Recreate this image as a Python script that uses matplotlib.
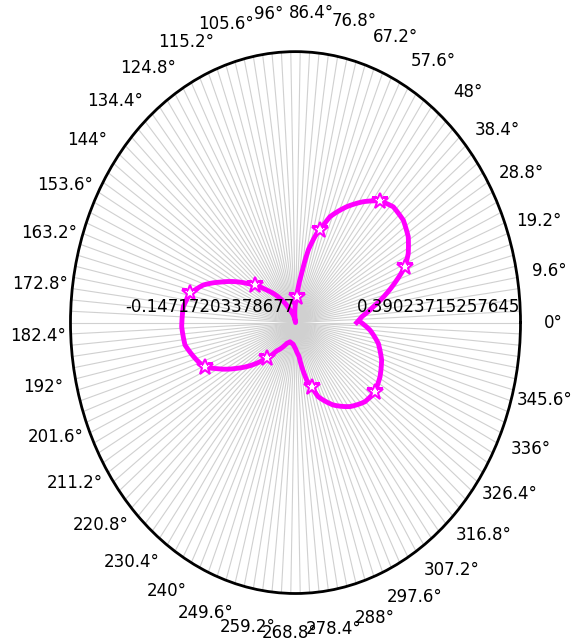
import numpy as np
import matplotlib
matplotlib.use('Agg')
import matplotlib.pyplot as plt

# curve: angle (deg) and radius (chart units)
theta_deg = [0.0, 4.2, 9.6, 14.9, 19.2, 22.9, 27.0, 32.3, 38.3, 44.5,
             50.1, 56.0, 62.0, 68.6, 72.3, 74.0, 78.0, 81.4, 86.8, 100.0,
             117.9, 127.6, 136.9, 142.5, 146.3, 154.9, 161.3, 167.1, 173.3, 181.8,
             189.6, 197.5, 202.4, 204.8, 212.9, 222.5, 225.9, 231.3, 243.1, 251.0,
             262.4, 269.7, 277.0, 283.2, 286.9, 290.3, 298.9, 308.1, 316.6, 324.1,
             332.0, 340.1, 348.2, 355.2, 359.8]
radius = [0.0919, 0.1121, 0.1611, 0.2215, 0.2715, 0.3174, 0.3473, 0.3740, 0.3893, 0.3885,
          0.3676, 0.3257, 0.2783, 0.2215, 0.1675, 0.1537, 0.0932, 0.0142, -0.0633, -0.1472,
          -0.1013, -0.0481, 0.0070, 0.0523, 0.0820, 0.1644, 0.2330, 0.2756, 0.2941, 0.2976,
          0.2905, 0.2575, 0.2352, 0.2066, 0.1262, 0.0409, 0.0145, -0.0294, -0.0716, -0.0813,
          -0.0769, -0.0637, -0.0373, 0.0444, 0.0726, 0.1095, 0.1584, 0.1991, 0.2266, 0.2361,
          0.2268, 0.2106, 0.1833, 0.1449, 0.1112]

# where the star markers sit (deg)
star_theta = [22.9, 50.1, 72.3, 86.8, 142.5, 167.1, 202.4, 225.9, 286.9, 324.1]

r_low = -0.1472
r_high = 0.7318
min_label = '-0.14717203378677'
max_label = '0.39023715257645'

grid_step = 2.4
label_step = 9.6
label_angles = [round(label_step * k, 1) for k in range(37)]
label_text = ['%g°' % a for a in label_angles]

fig = plt.figure(figsize=(5.74, 6.39), dpi=100)
ax = fig.add_axes([0.1228, 0.0712, 0.784, 0.848], projection='polar')
ax.set_aspect('auto')

marks = [theta_deg.index(s) for s in star_theta]
line, = ax.plot(np.radians(theta_deg), radius, color='#ff00ff', lw=3.5,
                marker='*', ms=12, mfc='white', mec='#ff00ff', mew=1.5,
                markevery=marks, zorder=3)
line.get_path()._interpolation_steps = 20

ax.set_ylim(r_low, r_high)
ax.set_yticks([])
ax.set_xticks(np.radians(np.arange(0, 360, grid_step)))
ax.set_xticklabels([])
ax.xaxis.grid(True, color='#d0d0d0', lw=0.8)
ax.spines['polar'].set_linewidth(2)

# angle labels sit a bit outside the rim
for a, s in zip(label_angles, label_text):
    t = np.radians(a)
    ax.text(0.5 + 0.5 * 1.145 * np.cos(t), 0.5 + 0.5 * 1.145 * np.sin(t), s,
            transform=ax.transAxes, ha='center', va='center', fontsize=12)

ax.text(0.497, 0.529, min_label, transform=ax.transAxes,
        ha='right', va='center', fontsize=12)
ax.text(0.637, 0.529, max_label, transform=ax.transAxes,
        ha='left', va='center', fontsize=12)

fig.savefig('out.png', dpi=100)
